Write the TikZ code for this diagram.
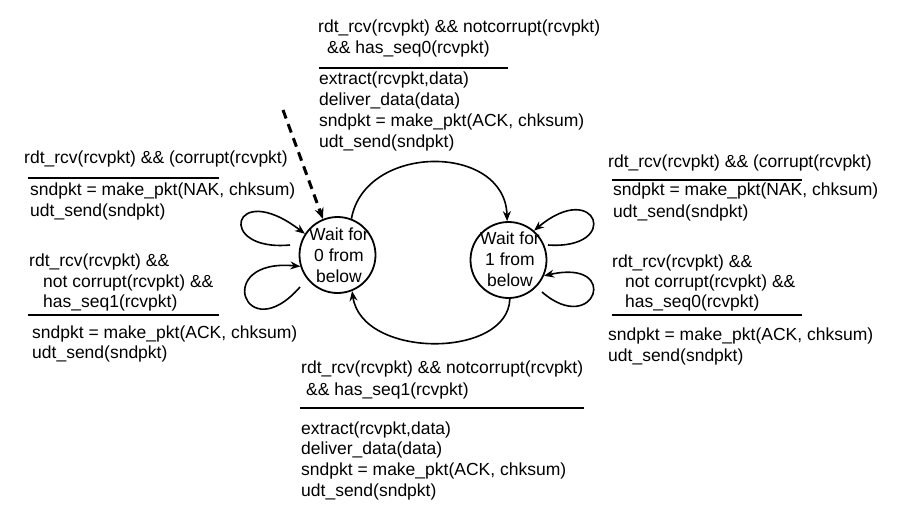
\documentclass[tikz,border=0pt]{standalone}
\usepackage{fontspec}
\setmainfont{Liberation Sans}
\usetikzlibrary{arrows.meta}
\begin{document}
\begin{tikzpicture}[x=1pt,y=-1pt,
  lbl/.style={anchor=base west,inner sep=0pt,font=\fontsize{17.5pt}{21pt}\selectfont},
  state/.style={circle,draw,line width=1.8pt,minimum size=76pt,inner sep=0pt,align=center,
     font=\fontsize{17.5pt}{20pt}\selectfont},
  sep/.style={line width=2.6pt},
  tr/.style={line width=1.6pt,-{Stealth[length=10pt,width=8pt]}},
  init/.style={line width=3pt,dash pattern=on 9pt off 6pt,-{Stealth[length=11pt,width=9pt]}}]
\useasboundingbox (0,0) rectangle (898,512);

% states
\node[state] (s0) at (337.5,255) {};
\node[state] (s1) at (508.5,260) {};
\node[lbl,anchor=base] (w0a) at (339,240) {Wait for};
\node[lbl,anchor=base] (w0b) at (339,261) {0 from};
\node[lbl,anchor=base] (w0c) at (339,282) {below};
\node[lbl,anchor=base] (w1a) at (510,244) {Wait for};
\node[lbl,anchor=base] (w1b) at (510,265) {1 from};
\node[lbl,anchor=base] (w1c) at (510,286) {below};

% initial arrow
\coordinate (i0) at (283,110);
\draw[init] (i0) -- (s0.112);

% top transition s0 -> s1
\draw[tr] (s0.69) .. controls (365,143) and (505,143) .. (s1.92);
% bottom transition s1 -> s0
\draw[tr] (s1.-88) .. controls (508,359) and (362,359) .. (s0.-68);

% left self loops
\coordinate (la) at (290,245);
\draw[tr] (la) .. controls (215,252) and (232,178) .. (s0.147);
\coordinate (lb) at (300,287);
\draw[tr] (lb) .. controls (245,350) and (212,258) .. (s0.197);
% right self loops
\coordinate (ra) at (548,245);
\draw[tr] (ra) .. controls (622,250) and (597,178) .. (s1.49);
\coordinate (rb) at (542,292);
\draw[tr] (rb) .. controls (595,338) and (622,258) .. (s1.-24);

% top block
\node[lbl] (t1) at (318,32) {rdt\_rcv(rcvpkt) \&\& notcorrupt(rcvpkt)};
\node[lbl] (t2) at (327,53) {\&\& has\_seq0(rcvpkt)};
\draw[sep] (319,68) -- (508,68);
\node[lbl] (t3) at (319,84) {extract(rcvpkt,data)};
\node[lbl] (t4) at (319,105) {deliver\_data(data)};
\node[lbl] (t5) at (319,126) {sndpkt = make\_pkt(ACK, chksum)};
\node[lbl] (t6) at (319,147) {udt\_send(sndpkt)};

% left block
\node[lbl] (l1) at (24,163) {rdt\_rcv(rcvpkt) \&\& (corrupt(rcvpkt)};
\draw[sep] (28,178) -- (219,178);
\node[lbl] (l2) at (30,195) {sndpkt = make\_pkt(NAK, chksum)};
\node[lbl] (l3) at (30,216) {udt\_send(sndpkt)};
\node[lbl] (l4) at (29,266) {rdt\_rcv(rcvpkt) \&\&};
\node[lbl] (l5) at (43,287) {not corrupt(rcvpkt) \&\&};
\node[lbl] (l6) at (43,307) {has\_seq1(rcvpkt)};
\draw[sep] (28,315) -- (219,315);
\node[lbl] (l7) at (32,338) {sndpkt = make\_pkt(ACK, chksum)};
\node[lbl] (l8) at (32,358) {udt\_send(sndpkt)};

% right block
\node[lbl] (r1) at (608,167) {rdt\_rcv(rcvpkt) \&\& (corrupt(rcvpkt)};
\draw[sep] (612,180) -- (802,180);
\node[lbl] (r2) at (613,195) {sndpkt = make\_pkt(NAK, chksum)};
\node[lbl] (r3) at (613,217) {udt\_send(sndpkt)};
\node[lbl] (r4) at (612,267) {rdt\_rcv(rcvpkt) \&\&};
\node[lbl] (r5) at (625,287) {not corrupt(rcvpkt) \&\&};
\node[lbl] (r6) at (625,307) {has\_seq0(rcvpkt)};
\draw[sep] (612,315) -- (802,315);
\node[lbl] (r7) at (608,340) {sndpkt = make\_pkt(ACK, chksum)};
\node[lbl] (r8) at (608,361) {udt\_send(sndpkt)};

% bottom block
\node[lbl] (b1) at (301,373) {rdt\_rcv(rcvpkt) \&\& notcorrupt(rcvpkt)};
\node[lbl] (b2) at (306,395) {\&\& has\_seq1(rcvpkt)};
\draw[sep] (300,408) -- (584,408);
\node[lbl] (b3) at (301,434) {extract(rcvpkt,data)};
\node[lbl] (b4) at (301,454) {deliver\_data(data)};
\node[lbl] (b5) at (301,475) {sndpkt = make\_pkt(ACK, chksum)};
\node[lbl] (b6) at (301,496) {udt\_send(sndpkt)};
\end{tikzpicture}
\end{document}
